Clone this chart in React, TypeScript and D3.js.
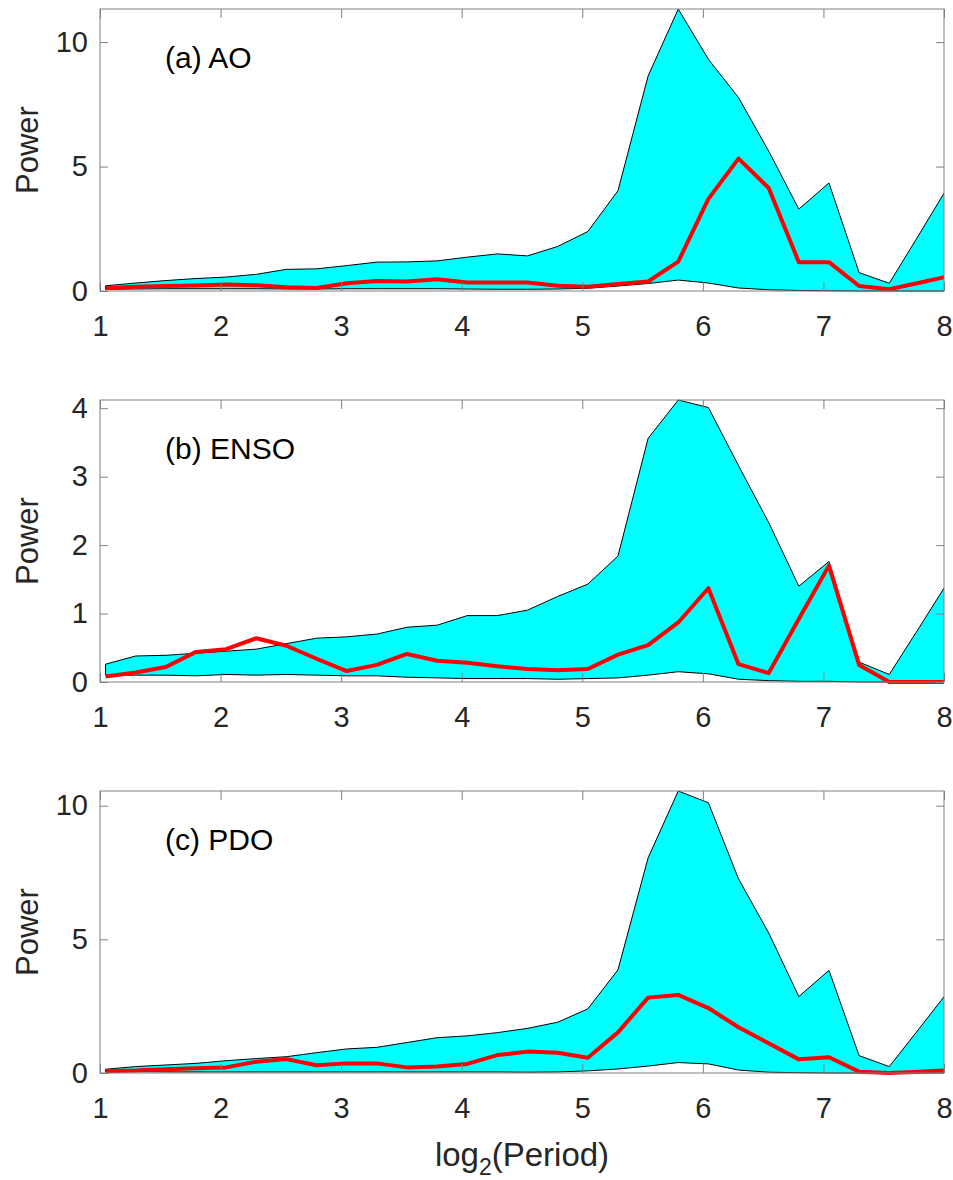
import React, { useEffect, useRef } from "react";
import * as d3 from "d3";

// log2(period) of each spectral estimate (last one falls just past the axis)
const PERIOD_LOG2 = [
  1.046, 1.296, 1.546, 1.796, 2.046, 2.296, 2.546, 2.796, 3.046, 3.296,
  3.546, 3.796, 4.046, 4.296, 4.546, 4.796, 5.046, 5.296, 5.546, 5.796,
  6.046, 6.296, 6.546, 6.796, 7.046, 7.296, 7.546, 7.796, 8.046,
];
const X_TICKS = [1, 2, 3, 4, 5, 6, 7, 8];

const AO_UPPER = [0.21, 0.32, 0.42, 0.5, 0.56, 0.67, 0.87, 0.89, 1.02, 1.16, 1.17, 1.21, 1.36, 1.49, 1.41, 1.79, 2.39, 4.03, 8.64, 11.33, 9.31, 7.77, 5.62, 3.29, 4.34, 0.74, 0.31, 2.29, 4.3];
const AO_LOWER = [0.07, 0.08, 0.09, 0.09, 0.09, 0.09, 0.08, 0.08, 0.09, 0.09, 0.09, 0.09, 0.08, 0.07, 0.07, 0.08, 0.11, 0.2, 0.3, 0.44, 0.32, 0.12, 0.05, 0.02, 0.01, 0, 0, 0, 0];
const AO_POWER = [0.11, 0.17, 0.2, 0.22, 0.26, 0.23, 0.15, 0.12, 0.31, 0.4, 0.38, 0.47, 0.34, 0.34, 0.34, 0.21, 0.17, 0.28, 0.38, 1.18, 3.7, 5.32, 4.14, 1.16, 1.16, 0.2, 0.07, 0.33, 0.6];
const AO_TICKS = [0, 5, 10];

const ENSO_UPPER = [0.26, 0.38, 0.39, 0.42, 0.45, 0.48, 0.56, 0.64, 0.66, 0.7, 0.8, 0.83, 0.97, 0.97, 1.05, 1.25, 1.43, 1.84, 3.56, 4.12, 4.01, 3.16, 2.33, 1.4, 1.76, 0.29, 0.11, 0.8, 1.5];
const ENSO_LOWER = [0.1, 0.1, 0.1, 0.09, 0.11, 0.1, 0.11, 0.1, 0.09, 0.09, 0.07, 0.06, 0.05, 0.05, 0.05, 0.04, 0.05, 0.06, 0.1, 0.15, 0.12, 0.04, 0.02, 0.01, 0.01, 0, 0, 0, 0];
const ENSO_POWER = [0.08, 0.14, 0.22, 0.44, 0.48, 0.64, 0.53, 0.34, 0.16, 0.25, 0.41, 0.31, 0.28, 0.23, 0.19, 0.17, 0.19, 0.4, 0.54, 0.87, 1.37, 0.26, 0.13, 0.92, 1.7, 0.25, 0, 0, 0];
const ENSO_TICKS = [0, 1, 2, 3, 4];

const PDO_UPPER = [0.14, 0.24, 0.3, 0.36, 0.46, 0.54, 0.61, 0.76, 0.9, 0.96, 1.14, 1.32, 1.39, 1.51, 1.67, 1.9, 2.4, 3.86, 8.05, 10.55, 10.11, 7.26, 5.24, 2.86, 3.84, 0.65, 0.24, 1.67, 3.12];
const PDO_LOWER = [0.05, 0.05, 0.04, 0.04, 0.04, 0.04, 0.04, 0.04, 0.04, 0.04, 0.04, 0.04, 0.04, 0.04, 0.03, 0.04, 0.08, 0.15, 0.26, 0.39, 0.34, 0.11, 0.03, 0.01, 0, 0, 0, 0, 0];
const PDO_POWER = [0.07, 0.09, 0.14, 0.18, 0.21, 0.42, 0.52, 0.29, 0.36, 0.36, 0.21, 0.24, 0.34, 0.67, 0.8, 0.76, 0.57, 1.52, 2.82, 2.92, 2.43, 1.71, 1.11, 0.51, 0.59, 0.05, 0, 0.05, 0.1];
const PDO_TICKS = [0, 5, 10];

const TITLES = ["(a) AO", "(b) ENSO", "(c) PDO"];
const SERIES = [
  { upper: AO_UPPER, lower: AO_LOWER, power: AO_POWER, ticks: AO_TICKS },
  { upper: ENSO_UPPER, lower: ENSO_LOWER, power: ENSO_POWER, ticks: ENSO_TICKS },
  { upper: PDO_UPPER, lower: PDO_LOWER, power: PDO_POWER, ticks: PDO_TICKS },
];

const FONT = "'Liberation Sans', Arial, Helvetica, sans-serif";

export default function App() {
  const ref = useRef<SVGSVGElement>(null);
  useEffect(() => {
    const node = ref.current;
    if (!node) return;
    const svg = d3.select(node);
    svg.selectAll("*").remove();
    const L = 100, R = 944, ph = 282, tops = [9, 400, 791];
    const x = d3.scaleLinear().domain([1, 8]).range([L, R]);
    const defs = svg.append("defs");

    SERIES.forEach((s, i) => {
      const top = tops[i], bottom = top + ph;
      const y = d3.scaleLinear().domain([0, d3.max(s.upper) as number]).range([bottom, top]);
      const clipId = `clip-${i}`;
      defs.append("clipPath").attr("id", clipId).append("rect")
        .attr("x", L).attr("y", top - 4).attr("width", R - L).attr("height", ph + 8);
      const g = svg.append("g");
      const plot = g.append("g").attr("clip-path", `url(#${clipId})`);

      const band = d3.area<number>()
        .x((_, j) => x(PERIOD_LOG2[j]))
        .y0((_, j) => y(s.lower[j]))
        .y1((d) => y(d));
      plot.append("path").datum(s.upper).attr("d", band)
        .attr("fill", "#00ffff").attr("stroke", "#000").attr("stroke-width", 1).attr("stroke-linejoin", "round");

      const line = d3.line<number>().x((_, j) => x(PERIOD_LOG2[j])).y((d) => y(d));
      plot.append("path").datum(s.power).attr("d", line)
        .attr("fill", "none").attr("stroke", "#ff0000").attr("stroke-width", 4).attr("stroke-linejoin", "round");

      // axes, ticks pointing in on all four sides
      const ax = [
        g.append("g").attr("transform", `translate(0,${bottom})`).call(d3.axisBottom(x).tickValues(X_TICKS).tickSize(-9).tickPadding(24).tickFormat(d3.format("d"))),
        g.append("g").attr("transform", `translate(0,${top})`).call(d3.axisTop(x).tickValues(X_TICKS).tickSize(-9).tickFormat(() => "")),
        g.append("g").attr("transform", `translate(${L},0)`).call(d3.axisLeft(y).tickValues(s.ticks).tickSize(-8).tickPadding(12).tickFormat(d3.format("d"))),
        g.append("g").attr("transform", `translate(${R},0)`).call(d3.axisRight(y).tickValues(s.ticks).tickSize(-8).tickFormat(() => "")),
      ];
      ax.forEach((a) => {
        a.select(".domain").remove();
        a.selectAll("line").attr("stroke", "#808080");
        a.selectAll("text").attr("fill", "#262626").attr("font-size", 29).attr("font-family", FONT);
      });
      g.append("rect").attr("x", L).attr("y", top).attr("width", R - L).attr("height", ph)
        .attr("fill", "none").attr("stroke", "#808080").attr("stroke-width", 1);

      g.append("text").attr("x", 165).attr("y", top + 59).attr("font-size", 30).attr("font-family", FONT)
        .attr("fill", "#000").text(TITLES[i]);
      g.append("text").attr("transform", `translate(38,${(top + bottom) / 2}) rotate(-90)`)
        .attr("text-anchor", "middle").attr("font-size", 31).attr("font-family", FONT).attr("fill", "#262626").text("Power");
    });

    const xl = svg.append("text").attr("x", (L + R) / 2).attr("y", 1166).attr("text-anchor", "middle")
      .attr("font-size", 33).attr("font-family", FONT).attr("fill", "#262626");
    xl.append("tspan").text("log");
    xl.append("tspan").attr("font-size", 23).attr("dy", 9).text("2");
    xl.append("tspan").attr("dy", -9).text("(Period)");
  }, []);
  return (
    <svg ref={ref} width={953} height={1180}
      style={{ position: "absolute", left: 0, top: 0, display: "block", background: "#fff" }} />
  );
}
